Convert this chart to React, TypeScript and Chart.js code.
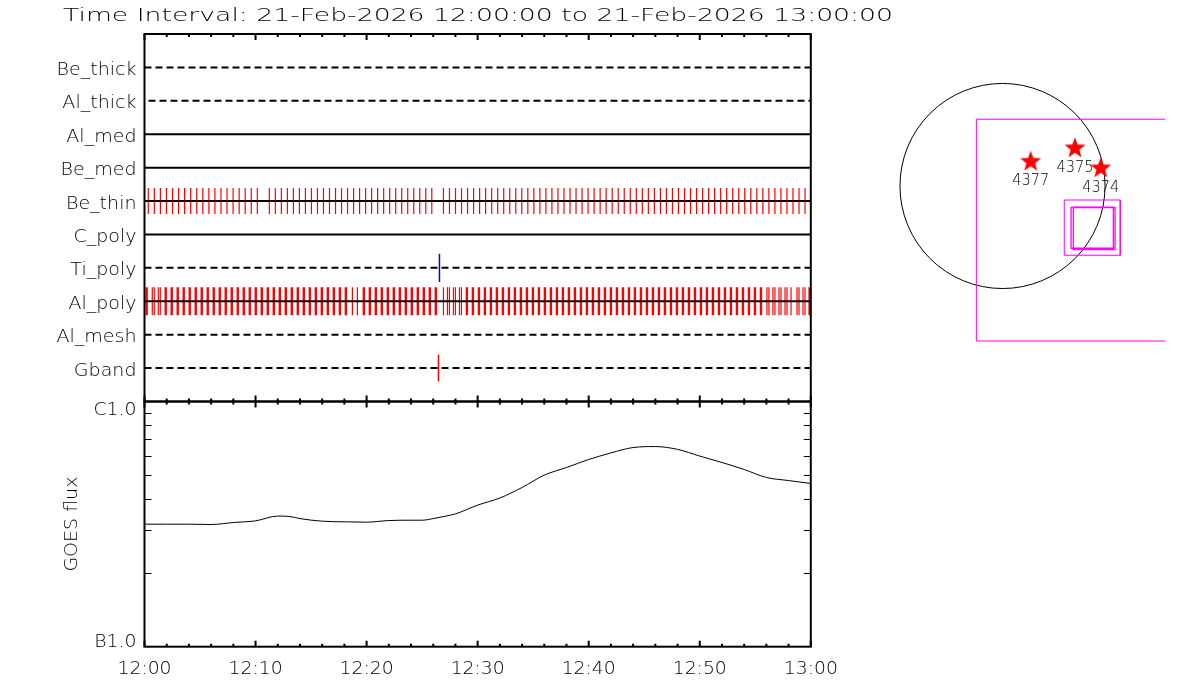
import React, { useEffect, useRef } from "react";
import { Chart, registerables } from "chart.js";
Chart.register(...registerables);

// ---------------- data ----------------
const TITLE = "Time Interval: 21-Feb-2026 12:00:00 to 21-Feb-2026 13:00:00";
const ROW_LABELS = ["Be_thick", "Al_thick", "Al_med", "Be_med", "Be_thin", "C_poly", "Ti_poly", "Al_poly", "Al_mesh", "Gband"];
const ROW_DASHED = [true, true, false, false, false, false, true, false, true, true];
const X_MIN = 0;
const X_MAX = 60; // minutes after 12:00
const X_TICK_MINUTES = [0, 10, 20, 30, 40, 50, 60];
const X_TICK_LABELS = ["12:00", "12:10", "12:20", "12:30", "12:40", "12:50", "13:00"];
const X_MINOR_MINUTES = [2, 4, 6, 8, 12, 14, 16, 18, 22, 24, 26, 28, 32, 34, 36, 38, 42, 44, 46, 48, 52, 54, 56, 58];

const GOES_MINUTES = [0, 2, 4, 6, 8, 10, 12, 13, 14, 16, 18, 20, 22, 24, 25, 26, 27, 28, 30, 32, 34, 36, 38, 40, 42, 44, 46, 48, 50, 52, 54, 56, 58, 60];
const GOES_FLUX_E7 = [3.16, 3.16, 3.16, 3.15, 3.21, 3.26, 3.41, 3.40, 3.33, 3.25, 3.23, 3.22, 3.27, 3.28, 3.28, 3.33, 3.40, 3.48, 3.78, 4.04, 4.46, 5.01, 5.38, 5.80, 6.17, 6.49, 6.55, 6.38, 5.99, 5.64, 5.28, 4.90, 4.76, 4.63];
const FLUX_MIN = 1e-7;
const FLUX_MAX = 1e-6;
const FLUX_TICK_VALUES = [1e-7, 1e-6];
const FLUX_TICK_LABELS = ["B1.0", "C1.0"];
const FLUX_MINOR_VALUES = [2e-7, 3e-7, 4e-7, 5e-7, 6e-7, 7e-7, 8e-7, 9e-7];

// observation tick marks, minutes after 12:00: runs = [first, last, count]
const BE_THIN_RUNS = [[0.34, 10.16, 19], [11.24, 25.87, 28], [26.92, 59.48, 61]];
const AL_POLY_THICK_RUNS = [[1.91, 18.13, 31], [19.75, 26.23, 13], [29.03, 55.51, 50], [59.89, 59.89, 1]];
const AL_POLY_THIN = [0.14, 0.25, 0.70, 0.88, 1.24, 1.42, 18.72, 19.17, 26.92, 27.28, 27.46, 27.82, 28.00, 28.36, 28.54,
  56.05, 56.23, 56.59, 56.77, 57.14, 57.32, 57.68, 57.86, 58.22, 58.76, 58.94, 59.30, 59.48];
const TI_POLY_TICKS = [26.56];
const GBAND_TICKS = [26.47];

// context map (arcsec)
const SUN_RADIUS = 965;
const FOV_BIG = [[-246, 628], [2000, 628], [2000, -1459], [-246, -1459], [-246, 628]];
const FOV_OUTER = [[581, -132], [1108, -132], [1108, -652], [581, -652], [581, -132]];
const FOV_INNER_A = [[645, -198], [1043, -198], [1043, -586], [645, -586], [645, -198]];
const FOV_INNER_B = [[666, -204], [1059, -204], [1059, -599], [666, -599], [666, -204]];
const AR_NUMBERS = ["4377", "4375", "4374"];
const AR_X = [265, 682, 924];
const AR_Y = [238, 364, 176];

// ---------------- helpers ----------------
const FONT = '200 18px "DejaVu Sans"';

function expandRuns(runs: number[][]): number[] {
  const out: number[] = [];
  runs.forEach(([a, b, n]) => {
    if (n <= 1) { out.push(a); return; }
    for (let k = 0; k < n; k++) out.push(a + ((b - a) * k) / (n - 1));
  });
  return out;
}

function tickSegments(times: number[], row: number, half: number) {
  const d: any[] = [];
  times.forEach((t) => {
    d.push({ x: t, y: row - half }, { x: t, y: row + half }, { x: t, y: null });
  });
  return d;
}

function stretchText(ctx: CanvasRenderingContext2D, text: string, x: number, y: number, sx: number, align: CanvasTextAlign) {
  ctx.save();
  ctx.translate(x, y);
  ctx.scale(sx, 1);
  ctx.textAlign = align;
  ctx.fillText(text, 0, 0);
  ctx.restore();
}

function makeStar(): HTMLCanvasElement {
  const c = document.createElement("canvas");
  c.width = 26; c.height = 26;
  const g = c.getContext("2d")!;
  g.fillStyle = "#ff0000";
  g.beginPath();
  for (let k = 0; k < 10; k++) {
    const a = -Math.PI / 2 + (k * Math.PI) / 5;
    const rad = k % 2 === 0 ? 11 : 4.6;
    const px = 13 + rad * Math.cos(a), py = 14 + rad * Math.sin(a);
    if (k === 0) g.moveTo(px, py); else g.lineTo(px, py);
  }
  g.closePath();
  g.fill();
  return c;
}

// ---------------- component ----------------
export default function App() {
  const mainRef = useRef<HTMLCanvasElement>(null);
  const mapRef = useRef<HTMLCanvasElement>(null);

  useEffect(() => {
    const rowDatasets = ROW_LABELS.map((_, i) => ({
      label: ROW_LABELS[i],
      data: [{ x: X_MIN, y: i + 1 }, { x: X_MAX, y: i + 1 }],
      borderColor: "#000",
      borderWidth: 2,
      borderDash: ROW_DASHED[i] ? [7, 4] : [],
      borderDashOffset: i === 1 ? 7 : 0,
      pointRadius: 0,
      yAxisID: "yRows",
      order: 0,
    }));
    const rowOf = (name: string) => ROW_LABELS.indexOf(name) + 1;
    const tickSets = [
      { data: tickSegments(expandRuns(BE_THIN_RUNS), rowOf("Be_thin"), 0.39), color: "#ff0000", w: 1.2 },
      { data: tickSegments(AL_POLY_THIN, rowOf("Al_poly"), 0.42), color: "#ff0000", w: 1.2 },
      { data: tickSegments(expandRuns(AL_POLY_THICK_RUNS), rowOf("Al_poly"), 0.42), color: "#ff0000", w: 2.4 },
      { data: tickSegments(TI_POLY_TICKS, rowOf("Ti_poly"), 0.42), color: "#0000ff", w: 1.5 },
      { data: tickSegments(GBAND_TICKS, rowOf("Gband"), 0.4), color: "#ff0000", w: 1.5 },
    ].map((s) => ({
      data: s.data,
      borderColor: s.color,
      borderWidth: s.w,
      pointRadius: 0,
      spanGaps: false,
      yAxisID: "yRows",
      order: 1,
    }));
    const goes = {
      data: GOES_MINUTES.map((m, i) => ({ x: m, y: GOES_FLUX_E7[i] * 1e-7 })),
      borderColor: "#000",
      borderWidth: 1,
      pointRadius: 0,
      tension: 0.4,
      cubicInterpolationMode: "monotone" as const,
      yAxisID: "yFlux",
      order: 0,
    };

    const decor = {
      id: "idlDecor",
      afterDraw(chart: any) {
        const ctx: CanvasRenderingContext2D = chart.ctx;
        const x = chart.scales.x, yR = chart.scales.yRows, yF = chart.scales.yFlux;
        const L = x.getPixelForValue(X_MIN), R = x.getPixelForValue(X_MAX);
        const T = yR.getPixelForValue(0), M = yF.getPixelForValue(FLUX_MAX), B = yF.getPixelForValue(FLUX_MIN);
        ctx.save();
        ctx.strokeStyle = "#000";
        ctx.fillStyle = "#000";
        ctx.lineWidth = 2;
        ctx.strokeRect(L, T, R - L, M - T);
        ctx.strokeRect(L, M, R - L, B - M);
        // x ticks
        const tick = (m: number, len: number) => {
          const px = x.getPixelForValue(m);
          ctx.beginPath();
          ctx.moveTo(px, T); ctx.lineTo(px, T + len);
          ctx.moveTo(px, M - len); ctx.lineTo(px, M + len);
          ctx.moveTo(px, B); ctx.lineTo(px, B - len);
          ctx.stroke();
        };
        X_TICK_MINUTES.forEach((m) => tick(m, 6));
        X_MINOR_MINUTES.forEach((m) => tick(m, 3));
        // log minor ticks
        ctx.lineWidth = 1;
        FLUX_MINOR_VALUES.forEach((v) => {
          const py = Math.round(yF.getPixelForValue(v)) + 0.5;
          ctx.beginPath();
          ctx.moveTo(L, py); ctx.lineTo(L + 7, py);
          ctx.moveTo(R, py); ctx.lineTo(R - 7, py);
          ctx.stroke();
        });
        // texts
        ctx.font = FONT;
        ctx.textBaseline = "alphabetic";
        const titleSx = 830 / ctx.measureText(TITLE).width;
        stretchText(ctx, TITLE, 63, 20.7, titleSx, "left");
        const rowSx = 80 / ctx.measureText("Be_thick").width;
        ROW_LABELS.forEach((lab, i) => {
          stretchText(ctx, lab, L - 8, yR.getPixelForValue(i + 1) + 7.5, rowSx, "right");
        });
        const xSx = 54 / ctx.measureText("12:00").width;
        X_TICK_MINUTES.forEach((m, i) => {
          stretchText(ctx, X_TICK_LABELS[i], x.getPixelForValue(m), 674, xSx, "center");
        });
        const fSx = 43 / ctx.measureText("C1.0").width;
        FLUX_TICK_VALUES.forEach((v, i) => {
          const py = yF.getPixelForValue(v);
          const isTop = v === FLUX_MAX;
          stretchText(ctx, FLUX_TICK_LABELS[i], L - 8, isTop ? py + 13.5 : py, fSx, "right");
        });
        const gSx = 95 / ctx.measureText("GOES flux").width;
        ctx.save();
        ctx.translate(76.5, (M + B) / 2);
        ctx.rotate(-Math.PI / 2);
        stretchText(ctx, "GOES flux", 0, 0, gSx, "center");
        ctx.restore();
        ctx.restore();
      },
    };

    const main = new Chart(mainRef.current!, {
      type: "line",
      data: { datasets: [...rowDatasets, ...tickSets, goes] as any },
      options: {
        animation: false,
        responsive: false,
        devicePixelRatio: 1,
        events: [],
        layout: { autoPadding: false, padding: { left: 144.5, right: 1200 - 810.8, top: 34, bottom: 700 - 646.7 } },
        plugins: { legend: { display: false }, tooltip: { enabled: false } },
        scales: {
          x: { type: "linear", min: X_MIN, max: X_MAX, display: false },
          yFlux: { type: "logarithmic", min: FLUX_MIN, max: FLUX_MAX, display: false, position: "left", stack: "v", stackWeight: 245.2, weight: 0 },
          yRows: { type: "linear", min: 0, max: ROW_LABELS.length + 1, reverse: true, display: false, position: "left", stack: "v", stackWeight: 367.5, weight: 1 },
        } as any,
      } as any,
      plugins: [decor],
    });

    // ---- context map ----
    const star = makeStar();
    const rect = (pts: number[][], w: number) => ({
      data: pts.map(([a, b]) => ({ x: a, y: b })),
      showLine: true,
      borderColor: "#ff00ff",
      borderWidth: w,
      pointRadius: 0,
      fill: false,
    });
    const sunPlugin = {
      id: "sun",
      beforeDatasetsDraw(chart: any) {
        const ctx: CanvasRenderingContext2D = chart.ctx;
        const sx = chart.scales.x, sy = chart.scales.y;
        const cx = sx.getPixelForValue(0), cy = sy.getPixelForValue(0);
        const r = sx.getPixelForValue(SUN_RADIUS) - cx;
        ctx.save();
        ctx.strokeStyle = "#000";
        ctx.lineWidth = 1;
        ctx.beginPath();
        ctx.arc(cx, cy, r, 0, Math.PI * 2);
        ctx.stroke();
        ctx.restore();
      },
      afterDatasetsDraw(chart: any) {
        const ctx: CanvasRenderingContext2D = chart.ctx;
        const meta = chart.getDatasetMeta(4);
        ctx.save();
        ctx.fillStyle = "#000";
        ctx.font = '200 15px "DejaVu Sans"';
        ctx.textBaseline = "alphabetic";
        const s = 37 / ctx.measureText("4377").width;
        meta.data.forEach((p: any, i: number) => {
          stretchText(ctx, AR_NUMBERS[i], p.x, p.y + 24.5, s, "center");
        });
        ctx.restore();
      },
    };
    const map = new Chart(mapRef.current!, {
      type: "scatter",
      data: {
        datasets: [
          rect(FOV_BIG, 1),
          rect(FOV_OUTER, 1),
          rect(FOV_INNER_A, 1.3),
          rect(FOV_INNER_B, 1.3),
          {
            data: AR_X.map((v, i) => ({ x: v, y: AR_Y[i] })),
            pointStyle: star,
            pointRadius: 11,
            showLine: false,
            clip: false,
          },
        ] as any,
      },
      options: {
        animation: false,
        responsive: false,
        devicePixelRatio: 1,
        events: [],
        layout: { autoPadding: false, padding: 0 },
        plugins: { legend: { display: false }, tooltip: { enabled: false } },
        scales: {
          x: { type: "linear", min: -1341, max: 1529, display: false },
          y: { type: "linear", min: -1826, max: 1374, display: false },
        },
      } as any,
      plugins: [sunPlugin],
    });

    return () => {
      main.destroy();
      map.destroy();
    };
  }, []);

  return (
    <div style={{ position: "fixed", left: 0, top: 0, width: 1200, height: 700, background: "#fff", overflow: "hidden" }}>
      <canvas ref={mainRef} width={1200} height={700} style={{ position: "absolute", left: 0, top: 0, width: 1200, height: 700 }} />
      <canvas ref={mapRef} width={305} height={340} style={{ position: "absolute", left: 860, top: 40, width: 305, height: 340 }} />
    </div>
  );
}
